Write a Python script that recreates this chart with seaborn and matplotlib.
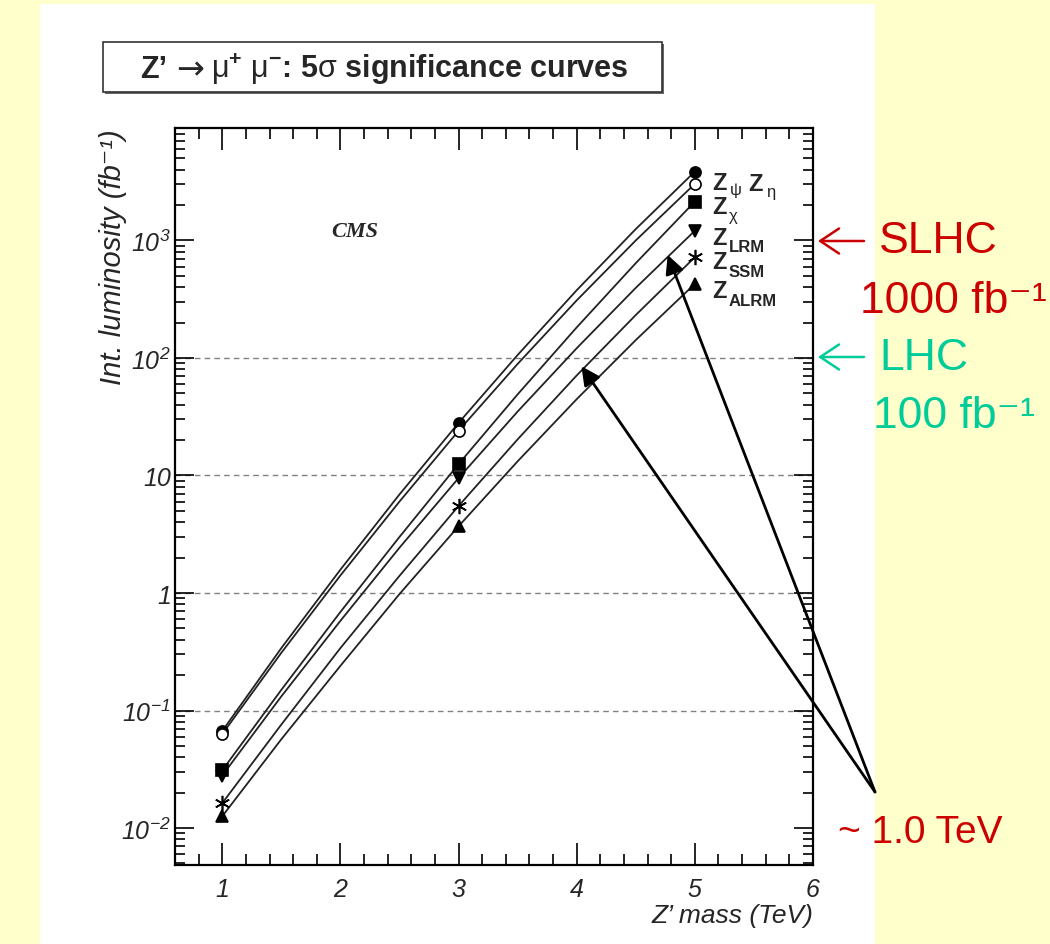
import numpy as np
import pandas as pd
import matplotlib
matplotlib.use("Agg")
import matplotlib.pyplot as plt
from matplotlib.patches import Rectangle
from matplotlib.ticker import MultipleLocator, LogLocator, NullFormatter
import seaborn as sns

# ---- data: 5 sigma discovery luminosity (fb^-1) vs Z' mass (TeV) ----
mass_tev = [1.0, 1.5, 2.0, 2.5, 3.0, 3.5, 4.0, 4.5, 5.0]
lumi_psi = [0.067, 0.34, 1.58, 6.9, 28, 106, 377, 1250, 3850]
lumi_eta = [0.063, 0.31, 1.41, 6.0, 24, 89, 309, 1000, 3030]
lumi_chi = [0.031, 0.150, 0.69, 3.0, 12.5, 49, 182, 641, 2140]
lumi_lrm = [0.028, 0.132, 0.58, 2.43, 9.5, 35, 121, 395, 1210]
lumi_ssm = [0.0163, 0.076, 0.34, 1.40, 5.5, 20.3, 71, 232, 720]
lumi_alrm = [0.0126, 0.057, 0.24, 0.98, 3.7, 13.2, 44.6, 142, 427]
marker_mass = [1.0, 3.0, 5.0]

models = ["psi", "eta", "chi", "lrm", "ssm", "alrm"]
series = [lumi_psi, lumi_eta, lumi_chi, lumi_lrm, lumi_ssm, lumi_alrm]

y_ticks = [1e-2, 1e-1, 1, 10, 1e2, 1e3]
y_tick_labels = [r"$\mathsf{10^{-2}}$", r"$\mathsf{10^{-1}}$", "1", "10",
                 r"$\mathsf{10^{2}}$", r"$\mathsf{10^{3}}$"]
x_ticks = [1, 2, 3, 4, 5, 6]
x_tick_labels = ["1", "2", "3", "4", "5", "6"]
grid_levels = [0.1, 1, 10, 100]

df = pd.DataFrame({
    "model": np.repeat(models, len(mass_tev)),
    "mass": np.tile(mass_tev, len(models)),
    "lumi": np.concatenate(series),
})
pts = df[df["mass"].isin(marker_mass)]

# ---- style ----
sns.set_style("ticks")
plt.rcParams["font.family"] = ["Liberation Sans", "DejaVu Sans"]
plt.rcParams["mathtext.fontset"] = "custom"
plt.rcParams["mathtext.rm"] = "Liberation Sans"
plt.rcParams["mathtext.it"] = "Liberation Sans:italic"
plt.rcParams["mathtext.bf"] = "Liberation Sans:bold"
plt.rcParams["mathtext.sf"] = "Liberation Sans:italic"

W, H = 1050, 945
fig = plt.figure(figsize=(W / 100, H / 100), dpi=100)
fig.patch.set_facecolor("#FFFFCC")
fig.add_artist(Rectangle((40 / W, 0), (875 - 40) / W, (H - 5) / H,
                         transform=fig.transFigure, facecolor="white",
                         edgecolor="none", zorder=0))


def fx(px):
    return px / W


def fy(py):
    return 1 - py / H


ax = fig.add_axes([fx(175), fy(866), (813 - 175) / W, (866 - 129) / H])
ax.set_yscale("log")
ax.set_xlim(0.6, 6.0)
ax.set_ylim(4.85e-3, 9.05e3)

for lvl in grid_levels:
    ax.axhline(lvl, color="#808080", lw=1.0, ls=(0, (4, 3)), zorder=0.5)

sns.lineplot(data=df, x="mass", y="lumi", units="model", estimator=None,
             color="#222222", lw=1.3, ax=ax, legend=False, zorder=2)

marker_style = {
    "psi": dict(marker="o", mfc="black", ms=8),
    "eta": dict(marker="o", mfc="white", ms=8),
    "chi": dict(marker="s", mfc="black", ms=8),
    "lrm": dict(marker="v", mfc="black", ms=8),
    "ssm": dict(marker=(6, 2, 0), mfc="black", ms=11),
    "alrm": dict(marker="^", mfc="black", ms=8),
}
for m in models:
    sub = pts[pts["model"] == m]
    ax.plot(sub["mass"], sub["lumi"], ls="none", mec="black",
            mew=1.2, zorder=3, **marker_style[m])

ax.set_xticks(x_ticks, x_tick_labels, fontstyle="italic", fontsize=18)
ax.set_yticks(y_ticks, y_tick_labels, fontstyle="italic", fontsize=18)
ax.xaxis.set_minor_locator(MultipleLocator(0.2))
ax.yaxis.set_minor_locator(LogLocator(base=10, subs=np.arange(2, 10), numticks=30))
ax.yaxis.set_minor_formatter(NullFormatter())
ax.tick_params(which="both", direction="in", top=True, right=True,
               width=1.2, color="black")
ax.tick_params(axis="x", which="major", length=16, pad=9)
ax.tick_params(axis="x", which="minor", length=8)
ax.tick_params(axis="y", which="major", length=14, pad=3)
ax.tick_params(axis="y", which="minor", length=7)
for s in ax.spines.values():
    s.set_linewidth(1.6)
    s.set_color("black")

ax.set_xlabel("Z\u2019 mass (TeV)", loc="right", fontstyle="italic", fontsize=19)
ax.set_ylabel("Int. luminosity (fb\u207b\u00b9)", loc="top", fontstyle="italic",
              fontsize=21)
ax.xaxis.set_label_coords(1.0, -0.052)
ax.yaxis.set_label_coords(-0.076, 1.0)

ax.text(0.282, 0.860, "CMS", transform=ax.transAxes, fontsize=16,
        fontweight="bold", fontstyle="italic", family="Liberation Serif",
        ha="center", va="center")

# model names beside the curve end points: bold Z plus a subscript
name_parts = [
    # (text, x px, baseline px, size, weight)
    ("Z", 712, 190, 17, "bold"),
    ("\u03c8", 730, 195, 12, "normal"),
    ("Z", 748, 191, 17, "bold"),
    ("\u03b7", 766, 197, 12, "normal"),
    ("Z", 712, 214, 17, "bold"),
    ("\u03c7", 729, 221, 12, "normal"),
    ("Z", 712, 245, 17, "bold"),
    ("LRM", 729, 252, 12, "bold"),
    ("Z", 712, 269, 17, "bold"),
    ("SSM", 729, 277, 12, "bold"),
    ("Z", 712, 298, 17, "bold"),
    ("ALRM", 729, 306, 12, "bold"),
]
for txt, px, py, size, weight in name_parts:
    fig.text(fx(px), fy(py), txt, fontsize=size, fontweight=weight,
             ha="left", va="baseline", zorder=4)

# title box
fig.add_artist(Rectangle((fx(105), fy(95)), (662 - 103) / W, 50 / H,
                         transform=fig.transFigure, facecolor="#666666",
                         edgecolor="none", zorder=1))
fig.add_artist(Rectangle((fx(103), fy(93)), (662 - 103) / W, 50 / H,
                         transform=fig.transFigure, facecolor="white",
                         edgecolor="#333333", lw=1.2, zorder=2))
fig.text(fx(140), fy(78), "Z\u2019", ha="left", va="baseline", fontsize=22,
         fontweight="bold", zorder=3)
fig.text(fx(190), fy(70), "\u2192", ha="center", va="center", fontsize=24,
         family=["DejaVu Sans"], zorder=3)
fig.text(fx(211), fy(78),
         r"$\mathrm{\mu}^{\mathbf{+}}$ $\mathrm{\mu}^{\mathbf{-}}$: 5$\mathrm{\sigma}$ significance curves",
         ha="left", va="baseline", fontsize=22, fontweight="bold", zorder=3)

# arrows from the "~ 1.0 TeV" note to the reach points
for tip in [(4.04, 85), (4.77, 753)]:
    ax.annotate("", xy=tip, xycoords="data", xytext=(875, H - 793),
                textcoords="figure pixels", annotation_clip=False,
                arrowprops=dict(arrowstyle="-|>", lw=2.0, color="black",
                                mutation_scale=28, shrinkA=0, shrinkB=0),
                zorder=5)

red = "#CC0000"
teal = "#00CC99"
big = 32
for ypx, col in [(242, red), (358, teal)]:
    ax.annotate("", xy=(818, H - ypx), xycoords="figure pixels",
                xytext=(864, H - ypx), textcoords="figure pixels",
                annotation_clip=False,
                arrowprops=dict(arrowstyle="->,head_length=0.45,head_width=0.3",
                                lw=1.8, color=col, mutation_scale=30,
                                shrinkA=0, shrinkB=0))
fig.text(fx(879), fy(253), "SLHC", color=red, fontsize=big, ha="left",
         va="baseline")
fig.text(fx(860), fy(313), "1000 fb\u207b\u00b9", color=red, fontsize=big,
         ha="left", va="baseline")
fig.text(fx(879), fy(370), "LHC", color=teal, fontsize=big, ha="left",
         va="baseline")
fig.text(fx(873), fy(428), "100 fb\u207b\u00b9", color=teal, fontsize=big,
         ha="left", va="baseline")
fig.text(fx(838), fy(843), "~ 1.0 TeV", color=red, fontsize=28, ha="left",
         va="baseline")

fig.savefig("out.png", dpi=100, facecolor=fig.get_facecolor())
